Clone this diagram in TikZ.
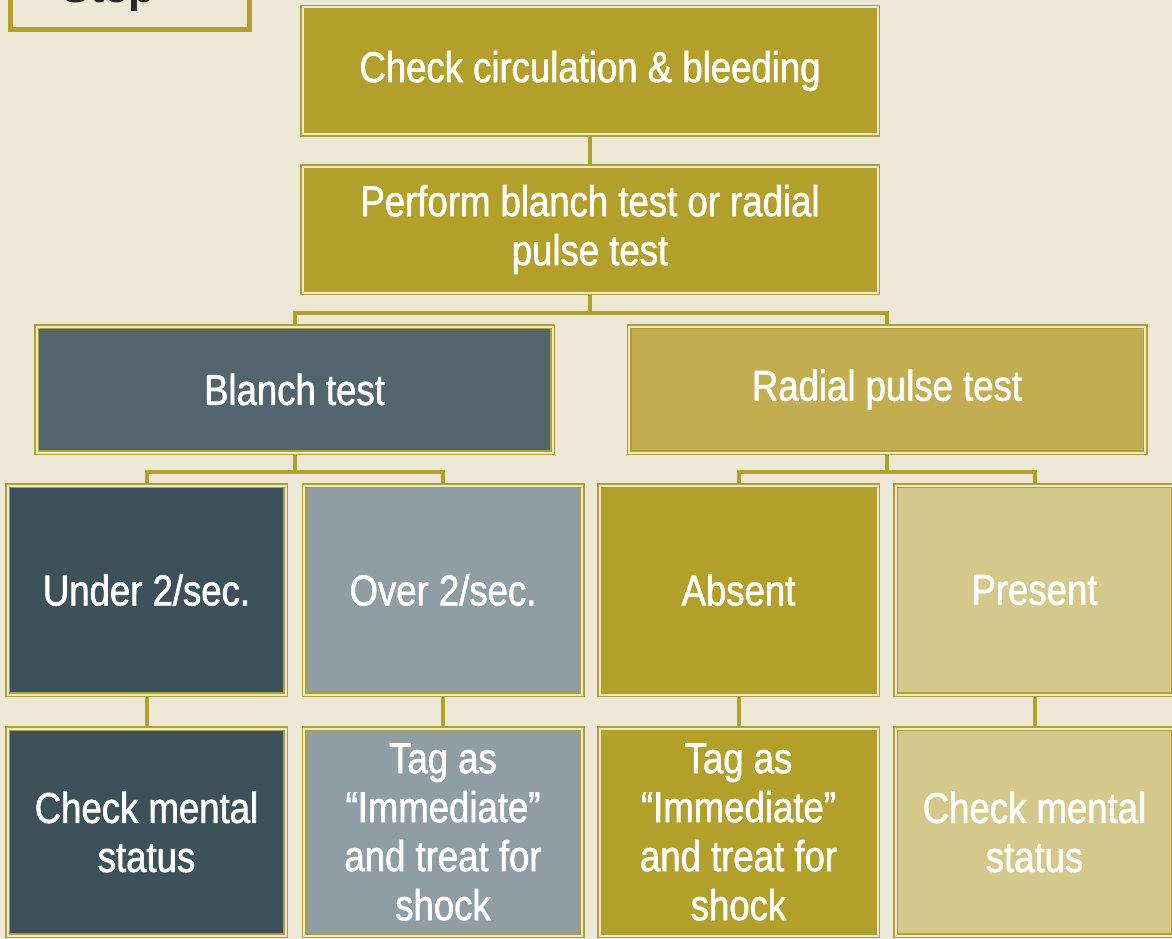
\documentclass[tikz,border=0pt]{standalone}
\usepackage{fontspec}
\setmainfont{Liberation Sans}[FakeStretch=0.85, FakeBold=1.5]
\newfontfamily\stepfont{Liberation Sans}
\usepackage{xcolor}
\usepackage{tikz}
\usetikzlibrary{positioning,calc}

\definecolor{bgcream}{RGB}{238,232,215}
\definecolor{gold}{RGB}{179,160,42}
\definecolor{slate}{RGB}{82,101,111}
\definecolor{darkslate}{RGB}{61,81,90}
\definecolor{greyslate}{RGB}{143,158,164}
\definecolor{lightgold}{RGB}{194,174,80}
\definecolor{palegold}{RGB}{212,200,138}

\begin{document}
\begin{tikzpicture}[x=1pt, y=-1pt,
    box/.style={rectangle, draw=gold, double=bgcream, line width=1.5pt, double distance=2pt,
        inner sep=0pt, outer sep=2.5pt, align=center, text=white, font=\fontsize{43}{49}\selectfont},
    widebox/.style={box, minimum width=575pt, minimum height=127pt},
    midbox/.style={box, minimum width=516pt, minimum height=126pt},
    tallbox/.style={box, minimum width=278pt, minimum height=209pt},
    lowbox/.style={box, minimum width=278pt, minimum height=207pt},
    stepbox/.style={rectangle, draw=gold, line width=5pt, fill=bgcream, minimum width=239pt, minimum height=87pt},
    link/.style={draw=gold, line width=4pt}
]
\useasboundingbox (0,0) rectangle (1172,939);
\clip (0,0) rectangle (1172,939);
\fill[bgcream] (0,0) rectangle (1172,939);

% Step tab
\node[stepbox] (stepframe) at (130,-14) {};
\node[anchor=base, font=\stepfont\bfseries\fontsize{43}{43}\selectfont, text=black!85] (steplabel) at (108,3) {Step};

% Boxes
\node[widebox, fill=gold] (circ) at (590,71) {Check circulation \& bleeding};
\node[widebox, fill=gold, minimum height=126pt] (perform) at (590,229.5) {Perform blanch test or radial\\pulse test};
\node[midbox, fill=slate] (blanch) at (294.5,389.5) {Blanch test};
\node[midbox, fill=lightgold] (radial) at (887,389.5) {Radial pulse test};
\node[tallbox, fill=darkslate] (under) at (146.5,590) {Under 2/sec.};
\node[tallbox, fill=greyslate] (over) at (443,590) {Over 2/sec.};
\node[tallbox, fill=gold] (absent) at (738.5,590) {Absent};
\node[tallbox, fill=palegold] (present) at (1034.5,590) {Present};
\node[lowbox, fill=darkslate] (mentalA) at (146.5,832) {Check mental\\status};
\node[lowbox, fill=greyslate] (tagA) at (443,832) {Tag as\\“Immediate”\\and treat for\\shock};
\node[lowbox, fill=gold] (tagB) at (738.5,832) {Tag as\\“Immediate”\\and treat for\\shock};
\node[lowbox, fill=palegold] (mentalB) at (1034.5,832) {Check mental\\status};

% Links
\coordinate (splittop) at (590,313);
\coordinate (splitblanch) at (294.5,472);
\coordinate (splitradial) at (887,472);
\draw[link] (circ) -- (perform);
\draw[link] (perform.south) -- (splittop);
\draw[link] (blanch.north) |- (splittop) -| (radial.north);
\draw[link] (blanch.south) -- (splitblanch);
\draw[link] (under.north) |- (splitblanch) -| (over.north);
\draw[link] (radial.south) -- (splitradial);
\draw[link] (absent.north) |- (splitradial) -| (present.north);
\draw[link] (under) -- (mentalA);
\draw[link] (over) -- (tagA);
\draw[link] (absent) -- (tagB);
\draw[link] (present) -- (mentalB);

\end{tikzpicture}
\end{document}
